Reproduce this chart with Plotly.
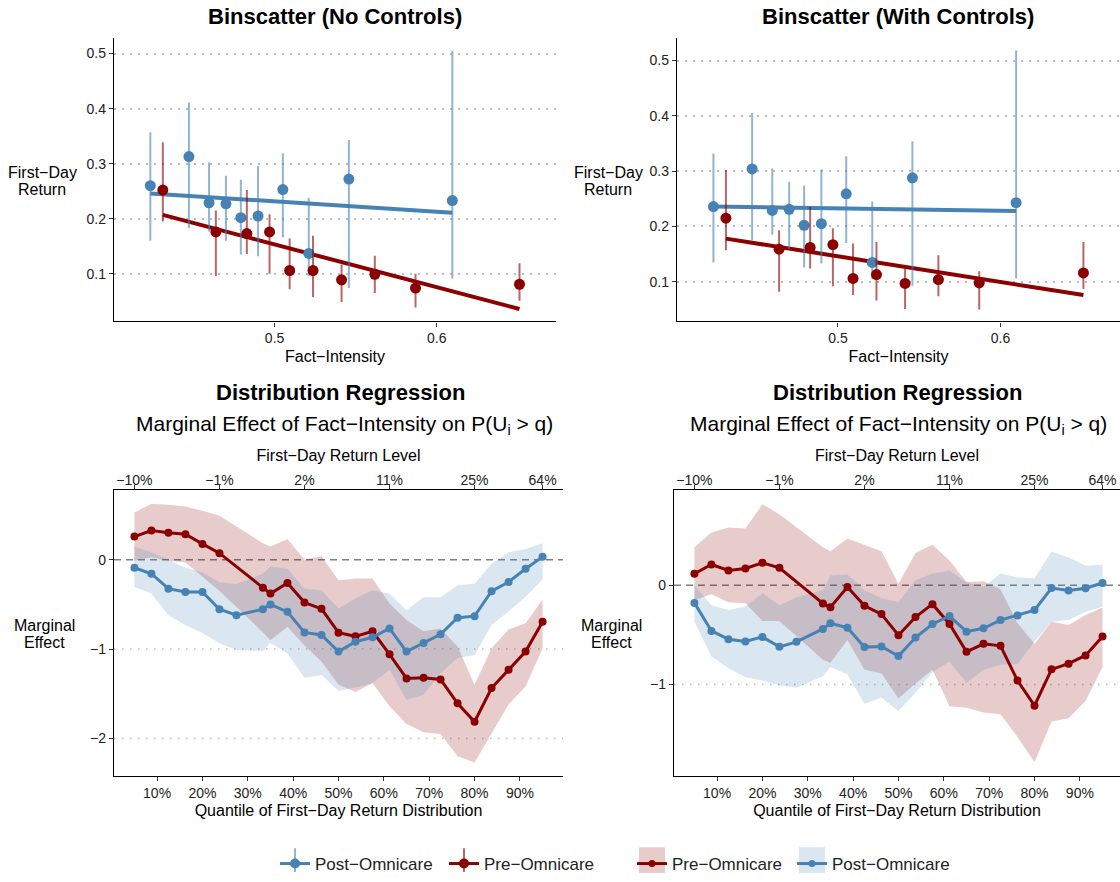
import plotly.graph_objects as go

# ---------------- data ----------------
# Binscatter bins (x = mean Fact-Intensity within bin)
post_bin_x = [0.4234, 0.4472, 0.4596, 0.4700, 0.4792, 0.4898, 0.5051, 0.5211, 0.5458, 0.6096]
pre_bin_x = [0.4311, 0.4638, 0.4829, 0.4969, 0.5093, 0.5237, 0.5413, 0.5618, 0.5869, 0.6510]

# No controls
post_y_nc = [0.260, 0.313, 0.229, 0.227, 0.202, 0.205, 0.253, 0.137, 0.272, 0.233]
post_lo_nc = [0.160, 0.183, 0.177, 0.160, 0.135, 0.132, 0.166, 0.096, 0.074, 0.091]
post_hi_nc = [0.357, 0.411, 0.302, 0.278, 0.271, 0.296, 0.319, 0.238, 0.343, 0.505]
pre_y_nc = [0.252, 0.176, 0.173, 0.176, 0.106, 0.106, 0.089, 0.099, 0.074, 0.081]
pre_lo_nc = [0.195, 0.096, 0.136, 0.100, 0.072, 0.058, 0.049, 0.065, 0.039, 0.051]
pre_hi_nc = [0.339, 0.215, 0.252, 0.208, 0.164, 0.169, 0.117, 0.133, 0.100, 0.119]
post_fit_x = [0.4234, 0.6096]
pre_fit_x = [0.4311, 0.6510]
post_fit_nc = [0.246, 0.211]
pre_fit_nc = [0.207, 0.036]

# With controls
post_y_wc = [0.236, 0.304, 0.229, 0.231, 0.202, 0.205, 0.259, 0.135, 0.288, 0.243]
post_lo_wc = [0.135, 0.175, 0.185, 0.159, 0.126, 0.133, 0.170, 0.105, 0.093, 0.106]
post_hi_wc = [0.332, 0.405, 0.305, 0.281, 0.274, 0.303, 0.327, 0.245, 0.354, 0.518]
pre_y_wc = [0.215, 0.159, 0.162, 0.167, 0.106, 0.113, 0.097, 0.104, 0.098, 0.116]
pre_lo_wc = [0.157, 0.082, 0.124, 0.092, 0.076, 0.066, 0.051, 0.074, 0.050, 0.087]
pre_hi_wc = [0.302, 0.193, 0.235, 0.197, 0.169, 0.172, 0.123, 0.148, 0.119, 0.172]
post_fit_wc = [0.236, 0.228]
pre_fit_wc = [0.178, 0.076]

# Distribution regression: quantile grid (%)
q_post = [5, 8.75, 12.5, 16.25, 20, 23.75, 27.5, 33.33, 35, 38.75, 42.5, 46.25, 50,
          53.75, 57.5, 61.25, 65, 68.75, 72.5, 76.25, 80, 83.75, 87.5, 91.25, 95]
q_pre = [5, 8.75, 12.5, 16.25, 20, 23.75, 33.33, 35, 38.75, 42.5, 46.25, 50,
         53.75, 57.5, 61.25, 65, 68.75, 72.5, 76.25, 80, 83.75, 87.5, 91.25, 95]

# No controls (left)
pre_me_nc = [0.26, 0.327, 0.304, 0.286, 0.178, 0.074, -0.312, -0.378, -0.26, -0.479, -0.549, -0.816,
             -0.857, -0.80, -1.058, -1.328, -1.321, -1.34, -1.607, -1.814, -1.436, -1.232, -1.028, -0.694]
pre_hi_me_nc = [0.53, 0.627, 0.616, 0.597, 0.549, 0.494, 0.186, 0.15, 0.234, 0.0, 0.04, -0.23,
                -0.21, -0.21, -0.49, -0.675, -0.80, -0.77, -0.97, -1.40, -0.99, -0.78, -0.71, -0.445]
pre_lo_me_nc = [-0.01, 0.03, -0.01, -0.03, -0.19, -0.35, -0.81, -0.90, -0.75, -0.96, -1.14, -1.40,
                -1.48, -1.38, -1.64, -1.84, -1.93, -1.95, -2.20, -2.27, -1.95, -1.62, -1.42, -0.99]
post_me_nc = [-0.089, -0.156, -0.323, -0.36, -0.36, -0.553, -0.62, -0.553, -0.50, -0.583, -0.813, -0.842,
              -1.028, -0.917, -0.868, -0.768, -1.028, -0.931, -0.835, -0.649, -0.631, -0.352, -0.249, -0.10, 0.033]
post_hi_me_nc = [0.148, 0.085, 0.0, -0.09, -0.14, -0.25, -0.27, -0.156, -0.074, -0.1, -0.323, -0.34,
                 -0.545, -0.43, -0.34, -0.38, -0.564, -0.42, -0.42, -0.285, -0.267, -0.045, 0.085, 0.12, 0.186]
post_lo_me_nc = [-0.304, -0.378, -0.62, -0.73, -0.82, -0.935, -1.01, -1.02, -0.93, -1.05, -1.32, -1.29,
                 -1.466, -1.43, -1.38, -1.23, -1.566, -1.51, -1.27, -1.10, -1.065, -0.73, -0.58, -0.415, -0.219]

# With controls (right)
pre_me_wc = [0.117, 0.21, 0.15, 0.17, 0.227, 0.177, -0.183, -0.22, -0.017, -0.207, -0.29, -0.503,
             -0.32, -0.19, -0.39, -0.67, -0.59, -0.61, -0.96, -1.213, -0.847, -0.79, -0.707, -0.517]
pre_hi_me_wc = [0.383, 0.533, 0.583, 0.573, 0.817, 0.717, 0.383, 0.343, 0.473, 0.407, 0.343, 0.017,
                0.327, 0.41, 0.25, 0.033, 0.04, -0.04, -0.383, -0.59, -0.367, -0.40, -0.30, -0.223]
pre_lo_me_wc = [-0.15, -0.09, -0.17, -0.18, -0.36, -0.36, -0.75, -0.78, -0.55, -0.85, -0.89, -1.14,
                -0.99, -0.85, -1.22, -1.233, -1.283, -1.30, -1.53, -1.783, -1.373, -1.34, -1.167, -0.823]
post_me_wc = [-0.177, -0.46, -0.543, -0.567, -0.52, -0.62, -0.57, -0.44, -0.383, -0.427, -0.623, -0.617,
              -0.713, -0.527, -0.39, -0.31, -0.467, -0.433, -0.35, -0.303, -0.25, -0.027, -0.053, -0.03, 0.023]
post_hi_me_wc = [0.0, -0.2, -0.25, -0.21, -0.08, -0.2, -0.12, -0.05, 0.1, 0.11, -0.05, -0.13,
                 -0.17, 0.05, 0.12, 0.15, 0.03, -0.02, 0.12, 0.08, 0.07, 0.34, 0.28, 0.2, 0.207]
post_lo_me_wc = [-0.367, -0.717, -0.833, -0.927, -0.96, -1.007, -1.033, -0.917, -0.823, -0.9, -1.193, -1.133,
                 -1.267, -1.083, -0.877, -0.767, -0.983, -0.85, -0.80, -0.793, -0.567, -0.367, -0.35, -0.267, -0.217]

# Axis ticks
bin_yticks = [0.1, 0.2, 0.3, 0.4, 0.5]
bin_xticks = [0.5, 0.6]
q_ticks = [10, 20, 30, 40, 50, 60, 70, 80, 90]
q_ticklabels = ["10%", "20%", "30%", "40%", "50%", "60%", "70%", "80%", "90%"]
level_ticks = [5, 23.75, 42.5, 61.25, 80, 95]
level_labels = ["\u221210%", "\u22121%", "2%", "11%", "25%", "64%"]
me_yticks_nc = [-2, -1, 0]
me_yticks_wc = [-1, 0]

# ---------------- style ----------------
W, H = 1120, 882
def px(x): return x / W
def py(y): return 1 - y / H

BLUE = "#4682B4"
RED = "#8B0000"
BLUE_ERR = "rgba(70,130,180,0.6)"
RED_ERR = "rgba(139,0,0,0.6)"
BLUE_BAND = "rgba(70,130,180,0.2)"
RED_BAND = "rgba(139,0,0,0.2)"
FONT = "Liberation Sans, Arial, Helvetica, sans-serif"
TICKFONT = dict(family=FONT, size=14, color="#222")
TITLEFONT = dict(family=FONT, size=16, color="#000")
GRIDCOL = "#BDBDBD"
GRIDDASH = "1.5px,6.5px"
GRID = dict(showgrid=True, gridcolor=GRIDCOL, gridwidth=1.5, griddash=GRIDDASH)

def mnus(v):
    return f"{v:g}".replace("-", "\u2212")

fig = go.Figure()

# ---------------- binscatter panels ----------------
def binscatter(xa, ya, post_y, post_lo, post_hi, post_fit, pre_y, pre_lo, pre_hi, pre_fit):
    fig.add_trace(go.Scatter(x=post_fit_x, y=post_fit, mode="lines", line=dict(color=BLUE, width=4),
                             xaxis=xa, yaxis=ya, showlegend=False, hoverinfo="skip"))
    fig.add_trace(go.Scatter(x=pre_fit_x, y=pre_fit, mode="lines", line=dict(color=RED, width=4),
                             xaxis=xa, yaxis=ya, showlegend=False, hoverinfo="skip"))
    fig.add_trace(go.Scatter(
        x=post_bin_x, y=post_y, mode="markers", marker=dict(color=BLUE, size=11),
        error_y=dict(type="data", symmetric=False,
                     array=[h - v for h, v in zip(post_hi, post_y)],
                     arrayminus=[v - l for v, l in zip(post_y, post_lo)],
                     color=BLUE_ERR, thickness=2, width=0),
        xaxis=xa, yaxis=ya, showlegend=False, name="Post\u2212Omnicare"))
    fig.add_trace(go.Scatter(
        x=pre_bin_x, y=pre_y, mode="markers", marker=dict(color=RED, size=11),
        error_y=dict(type="data", symmetric=False,
                     array=[h - v for h, v in zip(pre_hi, pre_y)],
                     arrayminus=[v - l for v, l in zip(pre_y, pre_lo)],
                     color=RED_ERR, thickness=2, width=0),
        xaxis=xa, yaxis=ya, showlegend=False, name="Pre\u2212Omnicare"))

binscatter("x", "y", post_y_nc, post_lo_nc, post_hi_nc, post_fit_nc,
           pre_y_nc, pre_lo_nc, pre_hi_nc, pre_fit_nc)
binscatter("x2", "y2", post_y_wc, post_lo_wc, post_hi_wc, post_fit_wc,
           pre_y_wc, pre_lo_wc, pre_hi_wc, pre_fit_wc)

# ---------------- distribution regression panels ----------------
def distreg(xa, xtop, ya, pre, pre_lo, pre_hi, post, post_lo, post_hi, yticks):
    # reference lines: dotted at non-zero ticks, dashed at zero (drawn under the bands)
    for v in yticks:
        if v == 0:
            fig.add_shape(type="line", xref=f"{xa} domain", yref=ya, x0=0, x1=1, y0=v, y1=v,
                          line=dict(color="#7F7F7F", width=1.6, dash="7px,5px"), layer="below")
        else:
            fig.add_shape(type="line", xref=f"{xa} domain", yref=ya, x0=0, x1=1, y0=v, y1=v,
                          line=dict(color=GRIDCOL, width=1.5, dash=GRIDDASH), layer="below")
    fig.add_trace(go.Scatter(x=q_pre + q_pre[::-1], y=pre_hi + pre_lo[::-1], fill="toself",
                             fillcolor=RED_BAND, line=dict(width=0), mode="lines",
                             xaxis=xa, yaxis=ya, showlegend=False, hoverinfo="skip"))
    fig.add_trace(go.Scatter(x=q_post + q_post[::-1], y=post_hi + post_lo[::-1], fill="toself",
                             fillcolor=BLUE_BAND, line=dict(width=0), mode="lines",
                             xaxis=xa, yaxis=ya, showlegend=False, hoverinfo="skip"))
    fig.add_trace(go.Scatter(x=q_pre, y=pre, mode="lines+markers", line=dict(color=RED, width=3),
                             marker=dict(color=RED, size=8), xaxis=xa, yaxis=ya, showlegend=False,
                             name="Pre\u2212Omnicare"))
    fig.add_trace(go.Scatter(x=q_post, y=post, mode="lines+markers", line=dict(color=BLUE, width=3),
                             marker=dict(color=BLUE, size=8), xaxis=xa, yaxis=ya, showlegend=False,
                             name="Post\u2212Omnicare"))
    # empty trace so that the top (return level) axis is drawn
    fig.add_trace(go.Scatter(x=[None], y=[None], mode="markers", xaxis=xtop, yaxis=ya,
                             showlegend=False, hoverinfo="skip"))

distreg("x3", "x4", "y3", pre_me_nc, pre_lo_me_nc, pre_hi_me_nc, post_me_nc, post_lo_me_nc, post_hi_me_nc,
        me_yticks_nc)
distreg("x5", "x6", "y5", pre_me_wc, pre_lo_me_wc, pre_hi_me_wc, post_me_wc, post_lo_me_wc, post_hi_me_wc,
        me_yticks_wc)

# ---------------- legends ----------------
LEG_Y = 867
leg_items = [
    # (legend id, name, colour, marker size, glyph centre x, key kind)
    ("legend", "Post\u2212Omnicare", BLUE, 10, 295, "err"),
    ("legend2", "Pre\u2212Omnicare", RED, 10, 464, "err"),
    ("legend3", "Pre\u2212Omnicare", RED, 7, 652, "band"),
    ("legend4", "Post\u2212Omnicare", BLUE, 7, 812, "band"),
]
legend_layouts = {}
for lid, name, col, ms, cx, kind in leg_items:
    fig.add_trace(go.Scatter(x=[None], y=[None], mode="lines+markers", name=name,
                             line=dict(color=col, width=3), marker=dict(color=col, size=ms),
                             legend=lid, showlegend=True))
    legend_layouts[lid] = dict(orientation="h", x=px(cx - 20), y=py(LEG_Y + 4), xanchor="left",
                               yanchor="middle", font=dict(family=FONT, size=17, color="#222"),
                               bgcolor="rgba(0,0,0,0)")
    # legend key decorations: whisker for point-range keys, shaded box for band keys
    if kind == "err":
        fig.add_shape(type="line", xref="paper", yref="paper", x0=px(cx), x1=px(cx),
                      y0=py(LEG_Y - 12), y1=py(LEG_Y + 12),
                      line=dict(color=BLUE_ERR if col == BLUE else RED_ERR, width=2), layer="below")
    else:
        fig.add_shape(type="rect", xref="paper", yref="paper", x0=px(cx - 13), x1=px(cx + 13),
                      y0=py(LEG_Y - 13), y1=py(LEG_Y + 13),
                      fillcolor=BLUE_BAND if col == BLUE else RED_BAND, line=dict(width=0), layer="below")

# ---------------- axes ----------------
base = dict(showline=True, linecolor="black", linewidth=1.3, ticks="outside", ticklen=4,
            tickcolor="#333", tickwidth=1, tickfont=TICKFONT, showgrid=False, zeroline=False,
            automargin=False, fixedrange=True)

def bin_axes(xname, yname, xdom, ydom, yrange):
    fig.layout[xname] = dict(base, domain=xdom, anchor=yname.replace("axis", ""), range=[0.401, 0.6735],
                             tickvals=bin_xticks, ticktext=[f"{v:g}" for v in bin_xticks],
                             title=dict(text="Fact\u2212Intensity", font=TITLEFONT, standoff=5))
    fig.layout[yname] = dict(base, **GRID, domain=ydom, anchor=xname.replace("axis", ""), range=yrange,
                             tickvals=bin_yticks, ticktext=[f"{v:g}" for v in bin_yticks])

bin_axes("xaxis", "yaxis", [px(114), px(556)], [py(324), py(38)], [0.0135, 0.5288])
bin_axes("xaxis2", "yaxis2", [px(677), 1.0], [py(324), py(38)], [0.0283, 0.5413])

def dist_axes(xname, xtop, yname, xdom, xrange, yrange, yticks):
    xa = xname.replace("axis", "")
    ya = yname.replace("axis", "")
    fig.layout[xname] = dict(base, domain=xdom, anchor=ya, range=xrange,
                             tickvals=q_ticks, ticktext=q_ticklabels,
                             title=dict(text="Quantile of First\u2212Day Return Distribution",
                                        font=TITLEFONT, standoff=5))
    fig.layout[xtop] = dict(base, domain=xdom, anchor=ya, overlaying=xa, side="top", range=xrange,
                            tickvals=level_ticks, ticktext=level_labels, ticklabelstandoff=-6,
                            title=dict(text="First\u2212Day Return Level", font=TITLEFONT, standoff=6))
    fig.layout[yname] = dict(base, domain=[py(782), py(494)], anchor=xa, range=yrange,
                             tickvals=yticks, ticktext=[mnus(v) for v in yticks])

dist_axes("xaxis3", "xaxis4", "yaxis3", [px(114), px(563)], [0.5, 99.5], [-2.419, 0.781], me_yticks_nc)
dist_axes("xaxis5", "xaxis6", "yaxis5", [px(674), 1.0], [0.5, 98.85], [-1.92, 0.96], me_yticks_wc)

# ---------------- titles / horizontal y-axis labels ----------------
def note(text, x, y, size, bold=False):
    fig.add_annotation(text=f"<b>{text}</b>" if bold else text, x=px(x), y=py(y), xref="paper", yref="paper",
                       xanchor="center", yanchor="middle", showarrow=False,
                       font=dict(family=FONT, size=size, color="#000"))

note("Binscatter (No Controls)", 335, 17, 22, True)
note("Binscatter (With Controls)", 898, 17, 22, True)
note("Distribution Regression", 340, 396, 22, True)
note("Distribution Regression", 897, 396, 22, True)
sub = "Marginal Effect of Fact\u2212Intensity on P(U<sub>i</sub> > q)"
note(sub, 344, 428, 21)
note(sub, 898, 428, 21)
for cx in (42, 608):
    note("First\u2212Day", cx, 174, 16)
    note("Return", cx, 191, 16)
for cx in (44, 612):
    note("Marginal", cx, 631, 16)
    note("Effect", cx, 648, 16)

fig.update_layout(
    width=W, height=H, margin=dict(l=0, r=0, t=0, b=0),
    paper_bgcolor="white", plot_bgcolor="white",
    font=dict(family=FONT, color="#000"),
    **legend_layouts,
)

fig.write_html("out.html")
